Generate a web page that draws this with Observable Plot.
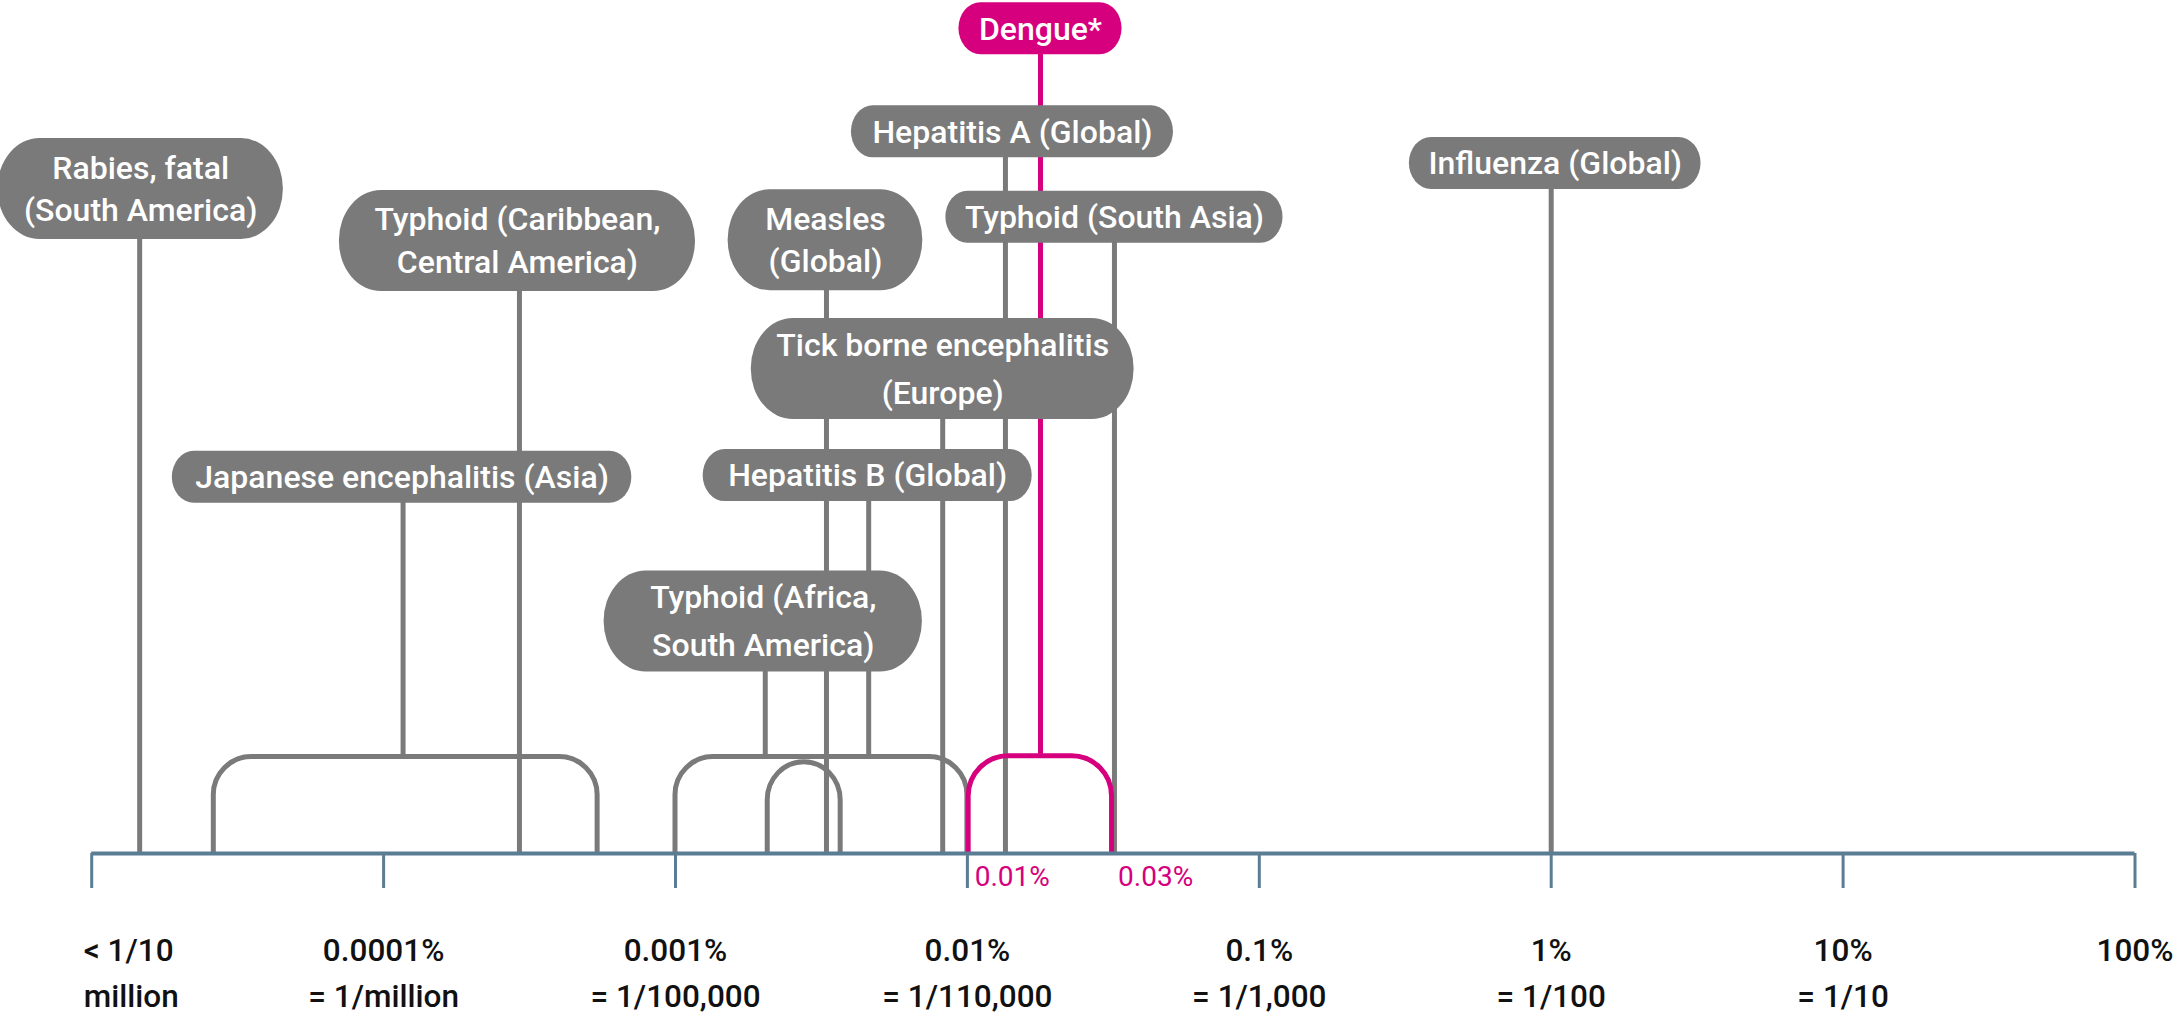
<!DOCTYPE html>
<html>
<head>
<meta charset="utf-8">
<script src="https://cdn.jsdelivr.net/npm/d3@7"></script>
<script src="https://cdn.jsdelivr.net/npm/@observablehq/plot@0.6"></script>
<style>
  html, body { margin: 0; padding: 0; background: #fff; }
  #chart svg { display: block; }
</style>
</head>
<body>
<div id="chart"></div>
<script>
// ---------------- DATA (risk in % per month) ----------------
const singleNames = [
  "Rabies, fatal\n(South America)",
  "Typhoid (Caribbean,\nCentral America)",
  "Measles\n(Global)",
  "Tick borne encephalitis\n(Europe)",
  "Hepatitis A (Global)",
  "Typhoid (South Asia)",
  "Influenza (Global)"
];
const singleRisk = [0.0000146, 0.000292, 0.00329, 0.00823, 0.0135, 0.0319, 1.0];

const rangeNames = [
  "Japanese encephalitis (Asia)",
  "Typhoid (Africa,\nSouth America)",
  "Hepatitis B (Global)",
  "Dengue*"
];
const rangeLow  = [0.0000262, 0.001, 0.00207, 0.0101];
const rangeHigh = [0.000541, 0.01, 0.00368, 0.0313];
const rangeStem = [0.0001166, 0.00203, 0.00459, 0.0178];
const highlighted = "Dengue*";
const highlightLabels = ["0.01%", "0.03%"];

const tickValues = [0.00001, 0.0001, 0.001, 0.01, 0.1, 1, 10, 100];
const tickLabels = [
  "< 1/10\nmillion",
  "0.0001%\n= 1/million",
  "0.001%\n= 1/100,000",
  "0.01%\n= 1/110,000",
  "0.1%\n= 1/1,000",
  "1%\n= 1/100",
  "10%\n= 1/10",
  "100%"
];

// ---------------- LAYOUT / STYLE ----------------
const W = 2179, H = 1024;
const M = {left: 91.2, right: 44.5, top: 0, bottom: 171};
const GRAY = "#7a7a7a", PINK = "#d6007e", AXIS = "#5b7d94";
const FONT = "Roboto, 'Noto Sans', sans-serif";
const BUBBLE_FS = 32;
const TICK_FS = 31.5, TICK_LH = 1.43;
// label placement (level on y scale 0..100 above axis), bubble padding, offsets, line height
const labelLayout = {
  "Dengue*":                               {level: 96.7, pad: 20, dx: 0, lh: 1.3},
  "Hepatitis A (Global)":                  {level: 84.6, pad: 21, dx: 7, lh: 1.3},
  "Rabies, fatal\n(South America)":        {level: 77.9, pad: 26, dx: 1, lh: 1.31},
  "Influenza (Global)":                    {level: 80.9, pad: 19, dx: 4, lh: 1.3},
  "Typhoid (Caribbean,\nCentral America)": {level: 71.8, pad: 35, dx: -2, lh: 1.34},
  "Measles\n(Global)":                     {level: 71.9, pad: 37, dx: -1, lh: 1.33},
  "Typhoid (South Asia)":                  {level: 74.6, pad: 19, dx: 0, lh: 1.3},
  "Tick borne encephalitis\n(Europe)":     {level: 56.8, pad: 25, dx: 0, lh: 1.5},
  "Japanese encephalitis (Asia)":          {level: 44.1, pad: 23, dx: -1, lh: 1.3},
  "Hepatitis B (Global)":                  {level: 44.3, pad: 25, dx: -1, lh: 1.3},
  "Typhoid (Africa,\nSouth America)":      {level: 27.2, pad: 46, dx: -2, lh: 1.5}
};
const bracketTop = {"Japanese encephalitis (Asia)": 11.3, "Typhoid (Africa,\nSouth America)": 11.3, "Hepatitis B (Global)": 10.7, "Dengue*": 11.4};
const stemEnd = 11.3;

// ---------------- BUILD ----------------
const xS = Plot.scale({x: {type: "log", domain: [tickValues[0], tickValues[tickValues.length - 1]], range: [M.left, W - M.right]}});
const yS = Plot.scale({y: {type: "linear", domain: [0, 100], range: [H - M.bottom, M.top]}});

const ctx = document.createElement("canvas").getContext("2d");
function textWidth(s) {
  ctx.font = `500 ${BUBBLE_FS}px Roboto`;
  return Math.max(...s.split("\n").map(l => ctx.measureText(l).width));
}

const points = singleNames.map((name, i) => ({name, risk: singleRisk[i]}));
const ranges = rangeNames.map((name, i) => ({name, lo: rangeLow[i], hi: rangeHigh[i], stem: rangeStem[i]}));
const grayRanges = ranges.filter(d => d.name !== highlighted);
const pinkRanges = ranges.filter(d => d.name === highlighted);

const bubbles = [
  ...points.map(d => ({name: d.name, anchor: d.risk})),
  ...ranges.map(d => ({name: d.name, anchor: d.stem}))
].map(b => {
  const L = labelLayout[b.name];
  const lines = b.name.split("\n").length;
  const h = lines > 1 ? 101 : 52;
  const cx = xS.apply(b.anchor) + L.dx;
  const cy = yS.apply(L.level);
  const half = textWidth(b.name) / 2 + L.pad;
  return {
    name: b.name, lines, lh: L.lh, level: L.level,
    cx: xS.invert(cx),
    x1: xS.invert(cx - half), x2: xS.invert(cx + half),
    y1: yS.invert(cy + h / 2), y2: yS.invert(cy - h / 2),
    pink: b.name === highlighted
  };
});

// vertical centring correction for Plot's multi-line "middle" anchor
const textMarks = bubbles.map(b => Plot.text([b], {
  x: "cx", y: "level", text: "name",
  dy: -(0.32 * b.lh - 0.355) * BUBBLE_FS - 0.5,
  fill: "white", fontSize: BUBBLE_FS, fontWeight: 500, fontFamily: FONT,
  lineAnchor: "middle", lineHeight: b.lh
}));

const tickDy = 108 - 0.71 * TICK_LH * TICK_FS;

const plot = Plot.plot({
  width: W, height: H,
  marginLeft: M.left, marginRight: M.right, marginTop: M.top, marginBottom: M.bottom,
  style: {fontFamily: FONT, background: "white", overflow: "visible"},
  x: {type: "log", domain: [tickValues[0], tickValues[tickValues.length - 1]]},
  y: {domain: [0, 100], axis: null},
  marks: [
    // stems of single-value diseases
    Plot.ruleX(points, {x: "risk", y1: () => 0, y2: d => labelLayout[d.name].level, stroke: GRAY, strokeWidth: 5}),
    // stems of ranges
    Plot.ruleX(grayRanges, {x: "stem", y1: () => stemEnd, y2: d => labelLayout[d.name].level, stroke: GRAY, strokeWidth: 5}),
    Plot.ruleX(pinkRanges, {x: "stem", y1: () => stemEnd, y2: d => labelLayout[d.name].level, stroke: PINK, strokeWidth: 5}),
    // range brackets (rounded, clipped at the axis)
    Plot.rect(grayRanges, {x1: "lo", x2: "hi", y1: () => -10, y2: d => bracketTop[d.name], fill: "none", stroke: GRAY, strokeWidth: 5, rx: 38, ry: 38, clip: true}),
    Plot.rect(pinkRanges, {x1: "lo", x2: "hi", y1: () => -10, y2: d => bracketTop[d.name], fill: "none", stroke: PINK, strokeWidth: 5, rx: 40, ry: 40, clip: true}),
    // axis
    Plot.ruleY([0], {stroke: AXIS, strokeWidth: 4}),
    Plot.axisX(tickValues, {tickSize: 35, stroke: AXIS, strokeWidth: 3, tickFormat: () => "", label: null}),
    Plot.text(tickValues.slice(1), {
      x: d => d, text: (d, i) => tickLabels[i + 1],
      frameAnchor: "bottom", lineAnchor: "top", dy: tickDy,
      fontSize: TICK_FS, fontWeight: 500, fill: "#111", lineHeight: TICK_LH, fontFamily: FONT
    }),
    Plot.text(tickValues.slice(0, 1), {
      x: d => d, text: () => tickLabels[0],
      frameAnchor: "bottom", lineAnchor: "top", dy: tickDy, dx: -8, textAnchor: "start",
      fontSize: TICK_FS, fontWeight: 500, fill: "#111", lineHeight: TICK_LH, fontFamily: FONT
    }),
    // highlighted range end labels
    Plot.text(pinkRanges.flatMap(d => [d.lo, d.hi]), {
      x: d => d, text: (d, i) => highlightLabels[i],
      frameAnchor: "bottom", lineAnchor: "top", dy: 13, dx: 6, textAnchor: "start",
      fontSize: 28, fontWeight: 400, fill: PINK, fontFamily: FONT
    }),
    // bubbles
    Plot.rect(bubbles.filter(b => !b.pink && b.lines === 1), {x1: "x1", x2: "x2", y1: "y1", y2: "y2", fill: GRAY, rx: 22, ry: 26}),
    Plot.rect(bubbles.filter(b => !b.pink && b.lines > 1), {x1: "x1", x2: "x2", y1: "y1", y2: "y2", fill: GRAY, rx: 42, ry: 50}),
    Plot.rect(bubbles.filter(b => b.pink), {x1: "x1", x2: "x2", y1: "y1", y2: "y2", fill: PINK, rx: 22, ry: 26}),
    ...textMarks
  ]
});
document.getElementById("chart").appendChild(plot);
</script>
</body>
</html>
